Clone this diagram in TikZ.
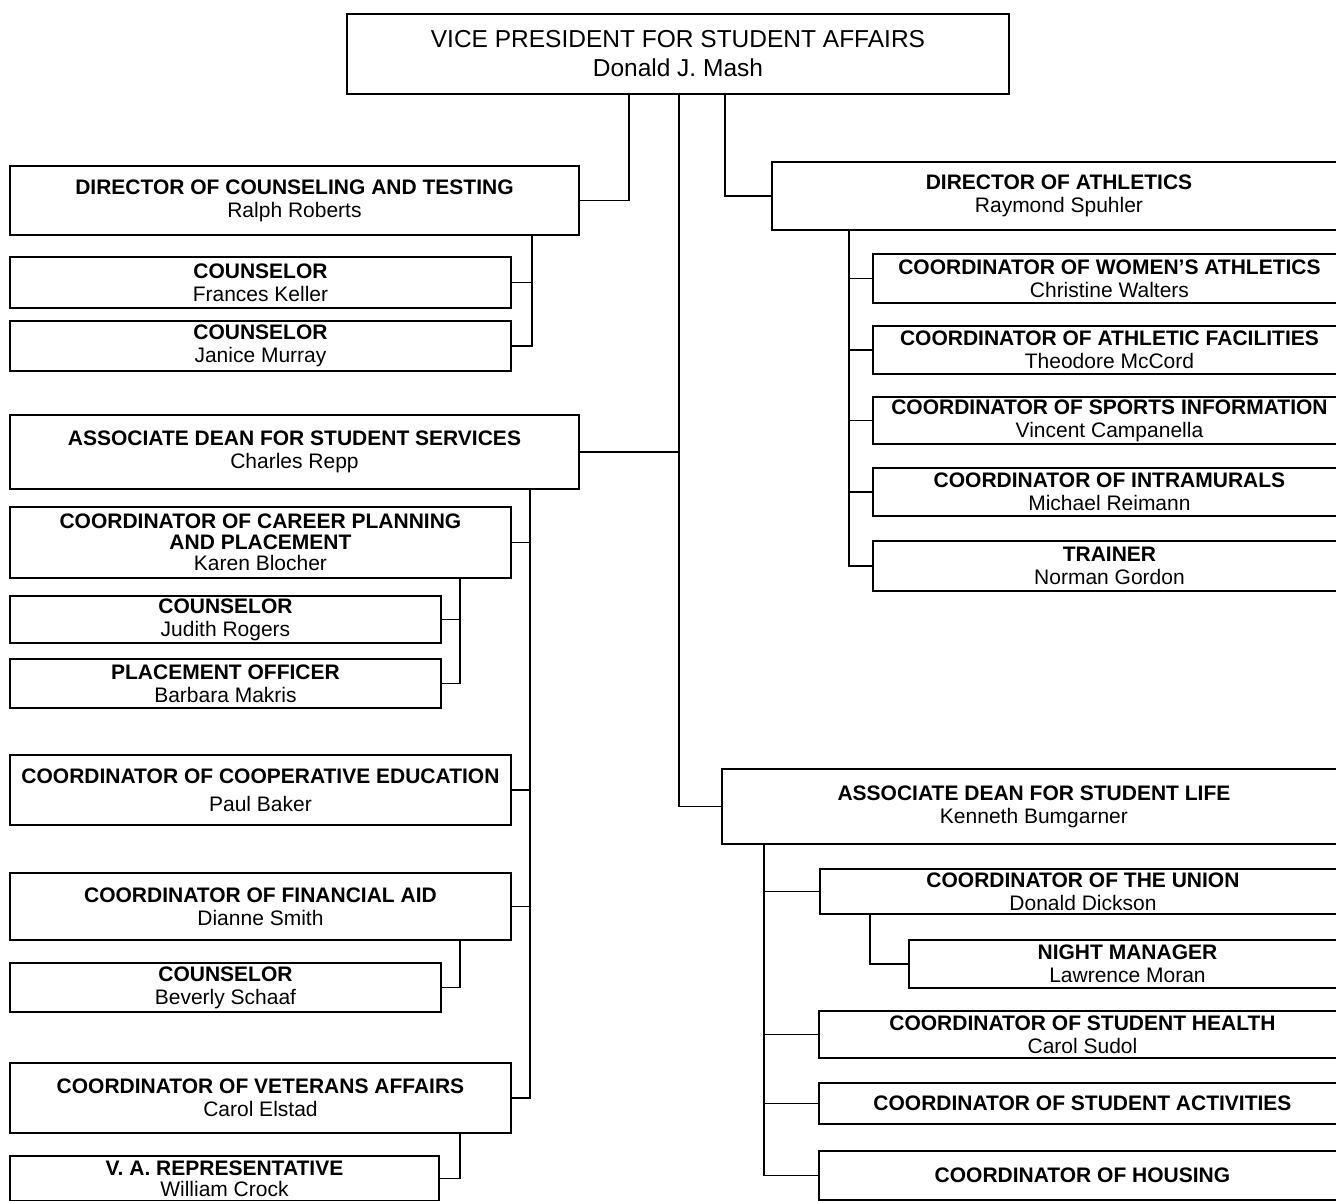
\documentclass[tikz,border=0pt]{standalone}
\usepackage{fontspec}
\setmainfont{Liberation Sans}
\usetikzlibrary{positioning}
\tikzset{
  post/.style={draw,line width=1.9pt,align=center,inner sep=0pt,anchor=north west,
    font=\bfseries\fontsize{21}{23}\selectfont},
  conn/.style={line width=1.7pt}
}
\newcommand{\who}[1]{{\mdseries #1}}

\begin{document}
\begin{tikzpicture}[x=1pt,y=-1pt]
\useasboundingbox (0,0) rectangle (1336,1201);
\clip (0,0) rectangle (1336,1201);

\node[post, minimum width=662pt, minimum height=80pt, font=\mdseries\fontsize{24.5}{29}\selectfont] (vp) at (346,13) {VICE PRESIDENT FOR STUDENT AFFAIRS\\Donald J. Mash};

% left side
\node[post, minimum width=569pt, minimum height=69pt] (dirc) at (9,165) {DIRECTOR OF COUNSELING AND TESTING\\\who{Ralph Roberts}};
\node[post, minimum width=501pt, minimum height=51pt] (cns1) at (9,256) {COUNSELOR\\\who{Frances Keller}};
\node[post, minimum width=501pt, minimum height=50pt] (cns2) at (9,320) {COUNSELOR\\\who{Janice Murray}};
\node[post, minimum width=569pt, minimum height=74pt] (asss) at (9,414) {ASSOCIATE DEAN FOR STUDENT SERVICES\\\who{Charles Repp}};
\node[post, minimum width=501pt, minimum height=71pt, font=\bfseries\fontsize{21}{21}\selectfont] (career) at (9,506) {COORDINATOR OF CAREER PLANNING\\AND PLACEMENT\\\who{Karen Blocher}};
\node[post, minimum width=431pt, minimum height=47pt] (cns3) at (9,595) {COUNSELOR\\\who{Judith Rogers}};
\node[post, minimum width=431pt, minimum height=49pt] (place) at (9,658) {PLACEMENT OFFICER\\\who{Barbara Makris}};
\node[post, minimum width=501pt, minimum height=70pt, font=\bfseries\fontsize{21}{28}\selectfont] (coop) at (9,754) {COORDINATOR OF COOPERATIVE EDUCATION\\\who{Paul Baker}};
\node[post, minimum width=501pt, minimum height=67pt] (fin) at (9,872) {COORDINATOR OF FINANCIAL AID\\\who{Dianne Smith}};
\node[post, minimum width=431pt, minimum height=49pt] (cns4) at (9,962) {COUNSELOR\\\who{Beverly Schaaf}};
\node[post, minimum width=501pt, minimum height=70pt] (vet) at (9,1062) {COORDINATOR OF VETERANS AFFAIRS\\\who{Carol Elstad}};
\node[post, minimum width=429pt, minimum height=45pt, font=\bfseries\fontsize{21}{21}\selectfont] (va) at (9,1155) {V. A. REPRESENTATIVE\\\who{William Crock}};

% right side
\node[post, minimum width=574pt, minimum height=68pt] (dira) at (771,161) {DIRECTOR OF ATHLETICS\\\who{Raymond Spuhler}};
\node[post, minimum width=473pt, minimum height=49pt] (wom) at (872,253) {COORDINATOR OF WOMEN'S ATHLETICS\\\who{Christine Walters}};
\node[post, minimum width=473pt, minimum height=48pt] (fac) at (872,325) {COORDINATOR OF ATHLETIC FACILITIES\\\who{Theodore McCord}};
\node[post, minimum width=473pt, minimum height=47pt] (spo) at (872,396) {COORDINATOR OF SPORTS INFORMATION\\\who{Vincent Campanella}};
\node[post, minimum width=473pt, minimum height=48pt] (intra) at (872,467) {COORDINATOR OF INTRAMURALS\\\who{Michael Reimann}};
\node[post, minimum width=473pt, minimum height=50pt] (trn) at (872,540) {TRAINER\\\who{Norman Gordon}};
\node[post, minimum width=624pt, minimum height=75pt] (asl) at (721,768) {ASSOCIATE DEAN FOR STUDENT LIFE\\\who{Kenneth Bumgarner}};
\node[post, minimum width=526pt, minimum height=45pt] (union) at (819,868) {COORDINATOR OF THE UNION\\\who{Donald Dickson}};
\node[post, minimum width=437pt, minimum height=48pt] (night) at (908,939) {NIGHT MANAGER\\\who{Lawrence Moran}};
\node[post, minimum width=527pt, minimum height=47pt] (health) at (818,1010) {COORDINATOR OF STUDENT HEALTH\\\who{Carol Sudol}};
\node[post, minimum width=527pt, minimum height=41pt] (act) at (818,1082) {COORDINATOR OF STUDENT ACTIVITIES};
\node[post, minimum width=527pt, minimum height=49pt] (hous) at (818,1150) {COORDINATOR OF HOUSING};

% trunk lines
\coordinate (ca) at (629,0);
\coordinate (cb) at (679,0);
\coordinate (cc) at (725,0);
\coordinate (cd) at (532,0);
\coordinate (ce) at (530,0);
\coordinate (cf) at (460,0);
\coordinate (cg) at (849,0);
\coordinate (ch) at (764,0);
\coordinate (ci) at (870,0);

\draw[conn] (vp.south -| ca) |- (dirc.east);
\draw[conn] (vp.south -| cb) |- (asl.west);
\draw[conn] (asss.east) -- (asss.east -| cb);
\draw[conn] (vp.south -| cc) |- (dira.west);

\draw[conn] (dirc.south -| cd) |- (cns2.east);
\draw[conn] (cns1.east) -- (cns1.east -| cd);

\draw[conn] (asss.south -| ce) |- (vet.east);
\foreach \n in {career,coop,fin}
  \draw[conn] (\n.east) -- (\n.east -| ce);
\draw[conn] (career.south -| cf) |- (place.east);
\draw[conn] (cns3.east) -- (cns3.east -| cf);
\draw[conn] (fin.south -| cf) |- (cns4.east);
\draw[conn] (vet.south -| cf) |- (va.east);

\draw[conn] (dira.south -| cg) |- (trn.west);
\foreach \n in {wom,fac,spo,intra}
  \draw[conn] (\n.west -| cg) -- (\n.west);

\draw[conn] (asl.south -| ch) |- (hous.west);
\foreach \n in {union,health,act}
  \draw[conn] (\n.west -| ch) -- (\n.west);
\draw[conn] (union.south -| ci) |- (night.west);
\end{tikzpicture}
\end{document}
